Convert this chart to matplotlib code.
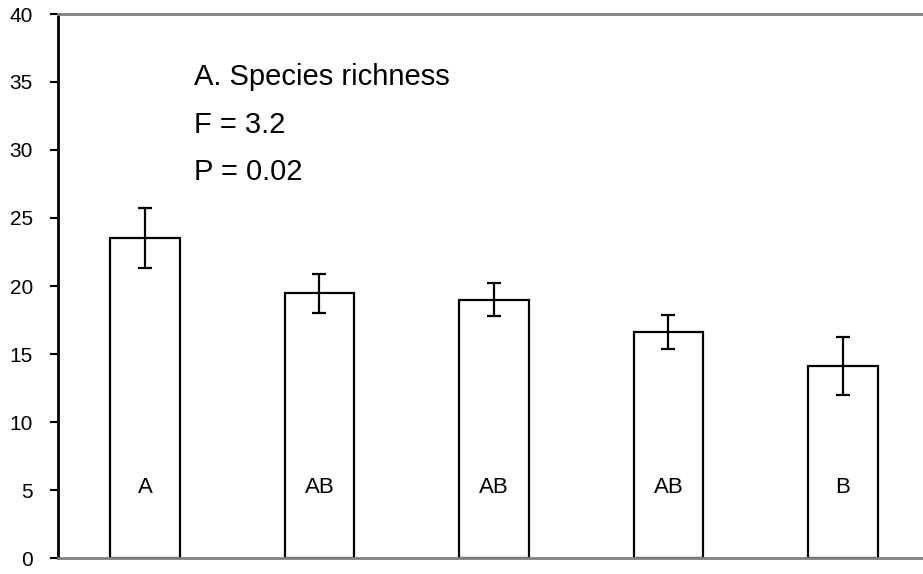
import matplotlib.pyplot as plt

plt.rcParams['font.family'] = ['Liberation Sans', 'DejaVu Sans']

# bar data
groups = ['1', '2', '3', '4', '5']
richness = [23.55, 19.45, 19.0, 16.65, 14.1]
errors = [2.2, 1.4, 1.2, 1.25, 2.15]
letters = ['A', 'AB', 'AB', 'AB', 'B']
yticks = [0, 5, 10, 15, 20, 25, 30, 35, 40]

fig = plt.figure(figsize=(9.23, 5.74), dpi=100)
ax = fig.add_axes([58 / 923, 16 / 574, 1 - 58 / 923, 544 / 574])

x = list(range(len(groups)))
ax.bar(x, richness, width=0.40, facecolor='white', edgecolor='black', linewidth=1.6, zorder=2)
ax.errorbar(x, richness, yerr=errors, fmt='none', ecolor='black', elinewidth=1.6,
            capsize=5, capthick=1.6, zorder=3)

# significance letters inside the bars
for xi, lab in zip(x, letters):
    ax.text(xi, 5.2, lab, ha='center', va='center', fontsize=16)

# stats annotation
ax.text(0.28, 34.8, 'A. Species richness', fontsize=21, va='baseline')
ax.text(0.28, 31.25, 'F = 3.2', fontsize=21, va='baseline')
ax.text(0.28, 27.8, 'P = 0.02', fontsize=21, va='baseline')

ax.set_xlim(-87 / 174.5, (923 - 145) / 174.5)
ax.set_ylim(0, 40)
ax.set_yticks(yticks)
ax.set_xticks([])
ax.tick_params(axis='y', length=6, width=1.5, pad=12, labelsize=15, direction='out')

ax.spines['left'].set_color('black')
ax.spines['left'].set_linewidth(2)
ax.spines['top'].set_color('#808080')
ax.spines['top'].set_linewidth(2)
ax.spines['bottom'].set_color('#808080')
ax.spines['bottom'].set_linewidth(2)
ax.spines['right'].set_visible(False)

fig.savefig('out.png', dpi=100)
